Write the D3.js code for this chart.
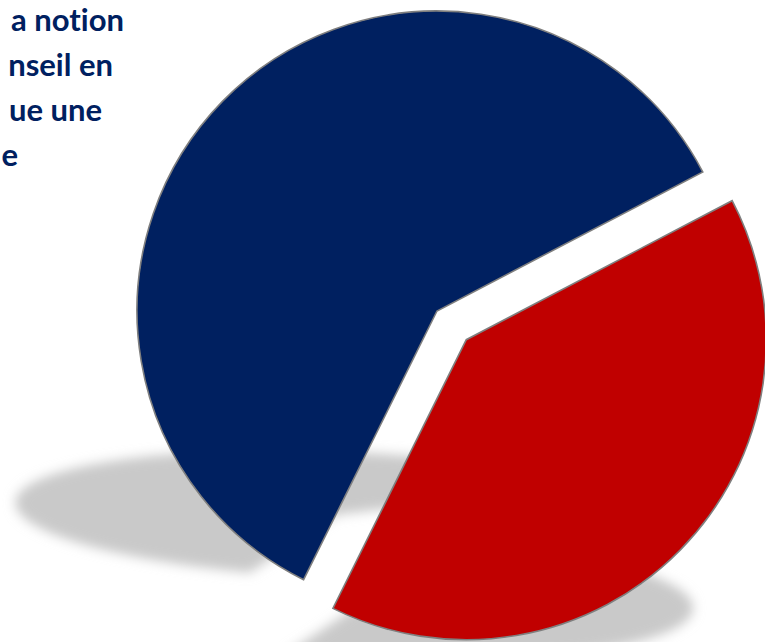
<!DOCTYPE html>
<html>
<head>
<meta charset="utf-8">
<script src="https://cdn.jsdelivr.net/npm/d3@7/dist/d3.min.js"></script>
<style>
  html, body { margin: 0; padding: 0; background: #fff; }
  svg { display: block; }
  text { font-variant-ligatures: none; }
</style>
</head>
<body>
<svg id="chart" width="765" height="642"></svg>
<script>
// ---- data ----
const categories = ["Non", "Oui"];
const values = [40, 60];
const colors = ["#C00000", "#002060"];
const titleLines = ["a notion", "nseil en", "ue une", "e"];

// ---- layout ----
const W = 765, H = 642;
const cx = 437, cy = 311, R = 300;
const explode = [41, 0];
const startDeg = 62.4;

const svg = d3.select("#chart");

const defs = svg.append("defs");
const f = defs.append("filter").attr("id", "blur")
  .attr("x", "-20%").attr("y", "-50%").attr("width", "140%").attr("height", "200%");
f.append("feGaussianBlur").attr("stdDeviation", 6);

const pie = d3.pie().sort(null).value(d => d)
  .startAngle(startDeg * Math.PI / 180)
  .endAngle(startDeg * Math.PI / 180 + 2 * Math.PI);
const arcs = pie(values);
const arc = d3.arc().innerRadius(0).outerRadius(R);

function offset(d, i) {
  const mid = (d.startAngle + d.endAngle) / 2;
  const e = explode[i];
  return [cx + e * Math.sin(mid), cy - e * Math.cos(mid)];
}

// perspective shadows
const shadowY = [523, 448];
const shadowG = svg.append("g").attr("filter", "url(#blur)");
arcs.forEach((d, i) => {
  const [ox, oy] = offset(d, i);
  shadowG.append("g")
    .attr("transform", `matrix(1.05,0,0.2,0.215,-185,${shadowY[i]})`)
    .append("path")
    .attr("transform", `translate(${ox},${oy})`)
    .attr("d", arc(d))
    .attr("fill", "#c9c9c9");
});

// slices
const sliceG = svg.append("g");
arcs.forEach((d, i) => {
  const [ox, oy] = offset(d, i);
  sliceG.append("path")
    .attr("transform", `translate(${ox},${oy})`)
    .attr("d", arc(d))
    .attr("fill", colors[i])
    .attr("stroke", "#7f7f7f")
    .attr("stroke-width", 1.6)
    .attr("stroke-linejoin", "miter")
    .attr("data-category", categories[i]);
});

// title fragments (clipped at the left edge)
const rightEnds = [124, 113, 102, 18];
svg.append("g")
  .selectAll("text")
  .data(titleLines)
  .join("text")
  .attr("x", (d, i) => rightEnds[i])
  .attr("y", (d, i) => 31 + i * 45)
  .attr("text-anchor", "end")
  .attr("font-family", "Lato, 'Open Sans', sans-serif")
  .attr("font-weight", "bold")
  .attr("font-size", 31)
  .attr("fill", "#002060")
  .text(d => d);
</script>
</body>
</html>
